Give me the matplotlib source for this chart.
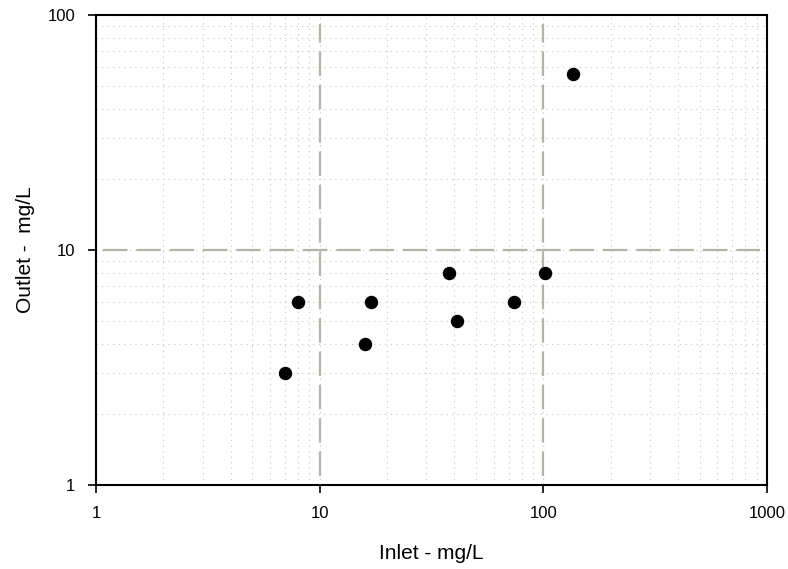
import matplotlib
matplotlib.use("Agg")
import matplotlib.pyplot as plt
from matplotlib.ticker import LogLocator, NullFormatter, FixedLocator, FixedFormatter

plt.rcParams['font.family'] = ['Liberation Sans', 'DejaVu Sans']

inlet = [7.0, 8.0, 16.0, 17.0, 38.0, 41.0, 74.0, 102.0, 136.0]
outlet = [3.0, 6.0, 4.0, 6.0, 8.0, 5.0, 6.0, 8.0, 56.0]

x_ticks = [1, 10, 100, 1000]
x_labels = ["1", "10", "100", "1000"]
y_ticks = [1, 10, 100]
y_labels = ["1", "10", "100"]

fig = plt.figure(figsize=(7.88, 5.69), dpi=100)
ax = fig.add_axes([0.1218, 0.1476, 0.8516, 0.826])
ax.set_xscale('log')
ax.set_yscale('log')
ax.set_xlim(1, 1000)
ax.set_ylim(1, 100)

grid_color = '#c4c4bc'
ax.xaxis.set_major_locator(FixedLocator(x_ticks))
ax.xaxis.set_major_formatter(FixedFormatter(x_labels))
ax.yaxis.set_major_locator(FixedLocator(y_ticks))
ax.yaxis.set_major_formatter(FixedFormatter(y_labels))
ax.xaxis.set_minor_locator(LogLocator(base=10, subs=range(2, 10)))
ax.yaxis.set_minor_locator(LogLocator(base=10, subs=range(2, 10)))
ax.xaxis.set_minor_formatter(NullFormatter())
ax.yaxis.set_minor_formatter(NullFormatter())
ax.grid(which='both', color=grid_color, linestyle=(0, (1, 4)), linewidth=0.8)
ax.tick_params(which='minor', length=0)
ax.tick_params(which='major', direction='out', length=6, width=1.2, labelsize=12, pad=9, colors='black')

dash_color = '#b4b4a8'
for xv in [10, 100]:
    ax.axvline(xv, ymin=0.02, ymax=0.98, color=dash_color, linestyle=(0, (11, 4)), linewidth=1.6)
ax.axhline(10, xmin=0.01, xmax=0.99, color=dash_color, linestyle=(0, (11, 4)), linewidth=1.6)

ax.scatter(inlet, outlet, s=75, color='black', zorder=5)

for sp in ax.spines.values():
    sp.set_linewidth(1.5)
    sp.set_color('black')

ax.set_xlabel("Inlet - mg/L", fontsize=15, labelpad=17)
ax.set_ylabel("Outlet -  mg/L", fontsize=15, labelpad=9)

fig.savefig("out.png", dpi=100)
